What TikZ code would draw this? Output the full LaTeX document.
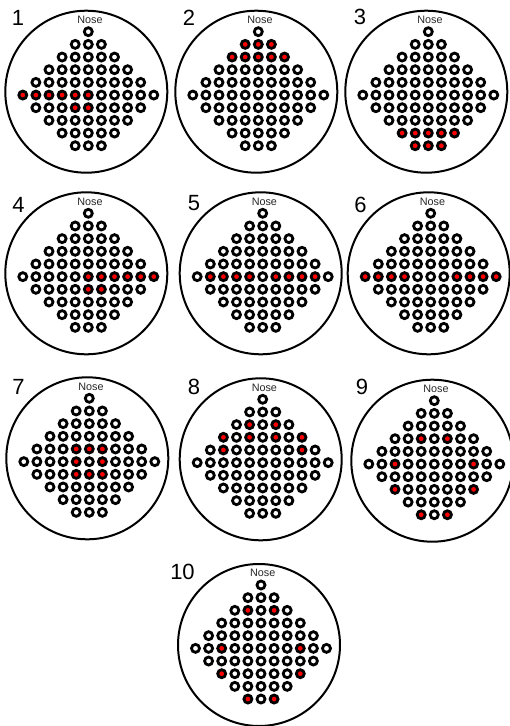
\documentclass[tikz,border=0pt]{standalone}
\usepackage{fontspec}
\setmainfont{Liberation Sans}
\tikzset{
  headring/.style={circle, draw, line width=2pt, minimum size=162pt, inner sep=0pt},
  elec/.style={circle, draw, line width=2.8pt, minimum size=8pt, inner sep=0pt},
  numlabel/.style={font=\fontsize{22}{24}\selectfont, inner sep=0pt},
  noselabel/.style={font=\fontsize{10.8}{12}\selectfont, inner sep=0pt, text=black!85},
}
\newcommand\markred[2]{\foreach \rr/\jj in {#2}{\expandafter\gdef\csname red:#1:\rr:\jj\endcsname{}}}
\newcommand\drawhead[5]{%
  \node[headring] (h#1) at ({#2-2},{#3+60}) {};
  \node[noselabel] (nose#1) at ({#2+1.7},{#3-11.7}) {Nose};
  \node[numlabel] (num#1) at (#4,#5) {#1};
  \foreach \r/\n in {0/0,1/1,2/2,3/3,4/4,5/5,6/4,7/3,8/2,9/1}{
    \pgfmathtruncatemacro\m{2*\n}
    \foreach \k in {0,...,\m}{
      \pgfmathtruncatemacro\j{\k-\n}
      \ifcsname red:#1:\r:\j\endcsname \def\fc{red}\else\def\fc{white}\fi
      \node[elec, fill=\fc] (e#1-\r-\k) at ({#2+\j*13.1},{#3+\r*12.67}) {};
    }
  }
}
\begin{document}
\begin{tikzpicture}[x=1pt, y=-1pt]
\useasboundingbox (0,0) rectangle (510,726);
\markred{1}{5/-5,5/-4,5/-3,5/-2,5/-1,5/0,6/-1,6/0}
\markred{2}{1/-1,1/0,1/1,2/-2,2/-1,2/0,2/1,2/2}
\markred{3}{8/-2,8/-1,8/0,8/1,8/2,9/-1,9/0,9/1}
\markred{4}{5/0,5/1,5/2,5/3,5/4,5/5,6/0,6/1}
\markred{5}{5/-4,5/-3,5/-2,5/-1,5/1,5/2,5/3,5/4}
\markred{6}{5/-5,5/-4,5/-3,5/-2,5/2,5/3,5/4,5/5}
\markred{7}{4/-1,4/0,4/1,5/-1,5/1,6/-1,6/0,6/1}
\markred{8}{2/-1,2/1,3/-3,3/-1,3/1,3/3,4/-3,4/3}
\markred{9}{3/-1,3/1,5/-3,5/3,7/-3,7/3,9/-1,9/1}
\markred{10}{2/-1,2/1,5/-3,5/3,7/-3,7/3,9/-1,9/1}
\drawhead{1}{88.3}{31.7}{18}{18}
\drawhead{2}{258.3}{31.7}{189}{17.5}
\drawhead{3}{428.3}{31.7}{360}{16.5}
\drawhead{4}{88.3}{213.3}{18.5}{204.5}
\drawhead{5}{262.7}{213.3}{194}{203}
\drawhead{6}{430.7}{213.3}{360.5}{205}
\drawhead{7}{89.3}{398.3}{18.5}{386.5}
\drawhead{8}{262.7}{399.3}{194}{386.5}
\drawhead{9}{434.3}{400.7}{362}{386.5}
\drawhead{10}{261}{585}{182.5}{571.5}
\end{tikzpicture}
\end{document}
